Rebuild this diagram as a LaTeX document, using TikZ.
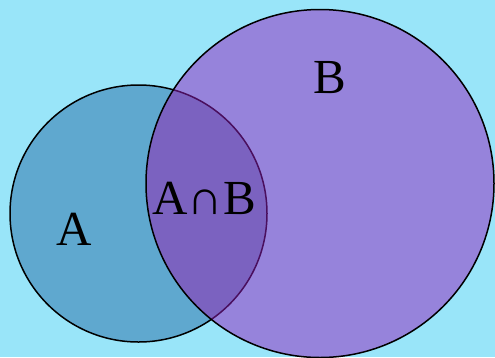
\documentclass[tikz,border=0pt]{standalone}
\usepackage{fontspec}
\setmainfont{Liberation Serif}
\usepackage{tikz}
\definecolor{skybg}{HTML}{99E5F9}
\definecolor{setA}{HTML}{5FA8CF}
\definecolor{setB}{HTML}{9683DB}
\definecolor{setAB}{HTML}{7B62C0}
\definecolor{rimAB}{HTML}{4A0F5E}
\tikzset{rim/.style={line width=1.5pt}}

\begin{document}
\begin{tikzpicture}[x=1pt,y=-1pt,font=\fontsize{49}{49}\selectfont]
\fill[skybg] (0,0) rectangle (495,357);
\useasboundingbox (0,0) rectangle (495,357);
\coordinate (ca) at (138.5,213.5);
\coordinate (cb) at (320,183.5);
% set A
\fill[setA] (ca) circle (128.5pt);
\draw[rim] (ca) circle (128.5pt);
% set B
\fill[setB] (cb) circle (174pt);
\begin{scope}
\clip (ca) circle (128.5pt);
\fill[setAB] (cb) circle (174pt);
\end{scope}
\begin{scope}
\clip (cb) circle (174pt);
\draw[rim,rimAB] (ca) circle (128.5pt);
\end{scope}
\draw[rim] (cb) circle (174pt);
% labels
\node (la) at (74,229) {A};
\node (lb) at (329.5,78) {B};
\node (lab) at (204,198.5) {A∩B};
\end{tikzpicture}
\end{document}
